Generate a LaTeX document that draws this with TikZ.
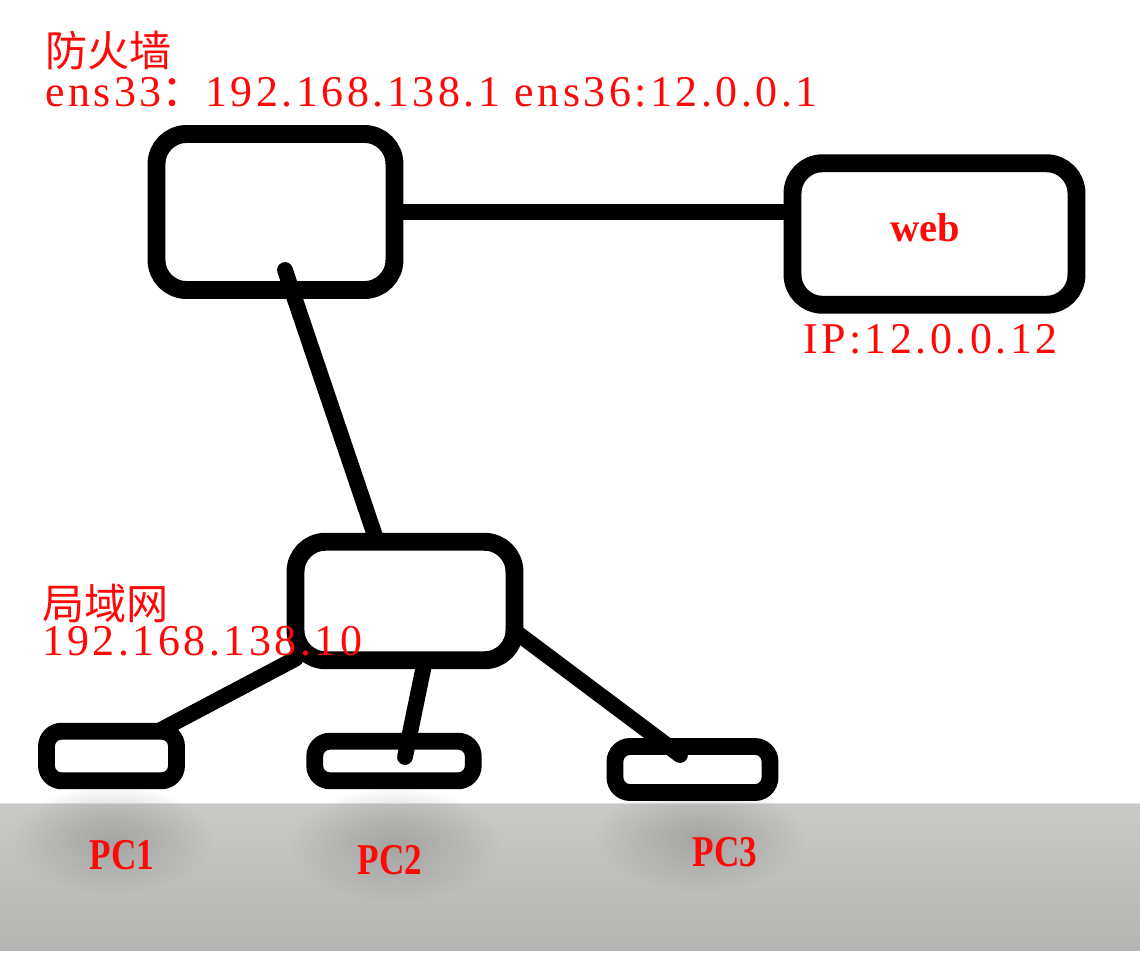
\documentclass[tikz,border=0pt]{standalone}
\usepackage{fontspec}
\setmainfont{Liberation Serif}
\newfontfamily\cjk{Noto Sans CJK SC}
\newfontfamily\lat[LetterSpace=8]{Liberation Serif}
\usepackage{graphicx}
\usetikzlibrary{calc,fadings}
\tikzfading[name=softspot, inner color=transparent!0, outer color=transparent!100]
\definecolor{bandtop}{HTML}{C9CAC8}
\definecolor{bandbot}{HTML}{B5B6B4}
\definecolor{shadowc}{HTML}{8E8F8D}
\definecolor{bandline}{HTML}{E2E2E2}
\definecolor{redtxt}{HTML}{FF0808}
\begin{document}
\begin{tikzpicture}[x=0.02cm, y=-0.02cm,
  box/.style={draw=black, line width=10.2pt, rounded corners=0.6cm, inner sep=0pt, outer sep=0pt},
  pcbox/.style={box, line width=9.6pt, rounded corners=0.3cm},
  wire/.style={draw=black, line width=9pt, line cap=round},
  lbl/.style={text=redtxt, inner sep=0pt, outer sep=0pt},
  latfont/.style={font=\lat\fontsize{25}{25}\selectfont},
  cjkfont/.style={font=\cjk\fontsize{24}{24}\selectfont, text depth=0pt},
  pcfont/.style={font=\bfseries\fontsize{25}{25}\selectfont},
  blur/.style={fill=shadowc, path fading=softspot, fill opacity=0.6}]
\useasboundingbox (0,0) rectangle (1140,960);
\fill[white] (0,0) rectangle (1140,960);
% gray band
\shade[top color=bandtop, bottom color=bandbot] (0,803) rectangle (1140,950);
\draw[bandline, line width=0.8pt] (0,803.5) -- (1140,803.5);
% blurred shadows
\fill[blur] (112,840) ellipse [x radius=100, y radius=55];
\fill[blur] (395,845) ellipse [x radius=105, y radius=58];
\fill[blur] (700,838) ellipse [x radius=105, y radius=55];
% boxes
\node[box, minimum width=4.76cm, minimum height=3.12cm] (fw) at (275.5,212) {};
\node[box, minimum width=5.68cm, minimum height=2.83cm] (web) at (934.5,234) {};
\node[box, minimum width=4.38cm, minimum height=2.37cm] (lan) at (405,601) {};
\node[pcbox, minimum width=2.6cm, minimum height=0.99cm] (pc1) at (111.5,756) {};
\node[pcbox, minimum width=3.17cm, minimum height=0.79cm] (pc2) at (394,761) {};
\node[pcbox, minimum width=3.1cm, minimum height=0.92cm] (pc3) at (692.5,769.5) {};
% connectors
\coordinate (fwtap) at (285,270);
\draw[wire] (fw.east) -- (web.west |- fw.east);
\draw[wire] (fwtap) -- ($(lan.north)+(-28,0)$);
\draw[wire] (lan) -- (pc1);
\draw[wire] ($(lan.south)+(20,0)$) -- ($(pc2.center)+(11,-4)$);
\draw[wire] ($(lan.east)+(0,30)$) -- ($(pc3.center)+(-12.5,-14.5)$);
% labels
\node[lbl, cjkfont, anchor=base west] (fwname) at (45,66) {防火墙};
\node[lbl, latfont, anchor=base west] (fwip) at (45,106) {ens33{\cjk ：}192.168.138.1 ens36:12.0.0.1};
\node[lbl, font=\bfseries\fontsize{23}{23}\selectfont] (webt) at (925,228) {web};
\node[lbl, latfont, anchor=base west] (webip) at (803,353) {IP:12.0.0.12};
\node[lbl, cjkfont, anchor=base west] (lanname) at (42,619) {局域网};
\node[lbl, latfont, anchor=base west] (lanip) at (42,655) {192.168.138.10};
\node[lbl, pcfont] (pc1t) at (122,855) {\scalebox{0.8}[1]{PC1}};
\node[lbl, pcfont] (pc2t) at (390,860) {\scalebox{0.8}[1]{PC2}};
\node[lbl, pcfont] (pc3t) at (725,852) {\scalebox{0.8}[1]{PC3}};
\end{tikzpicture}
\end{document}
